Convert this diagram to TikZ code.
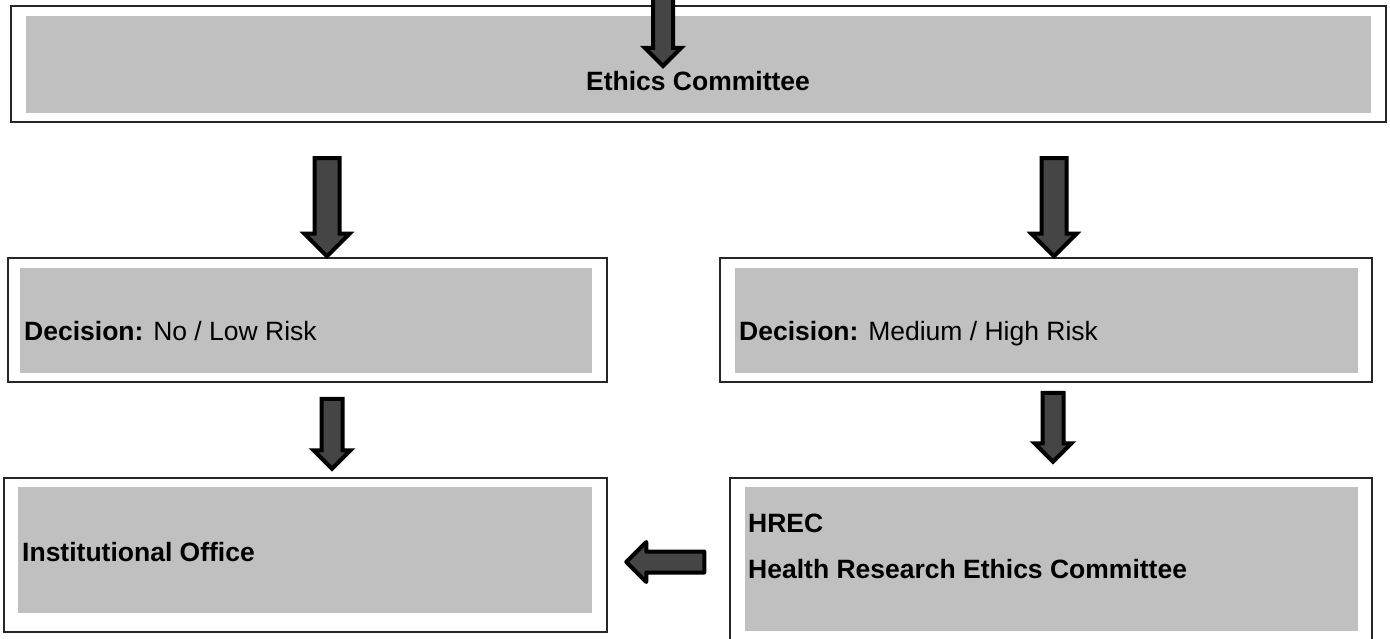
\documentclass[tikz,border=0pt]{standalone}
\usepackage{fontspec}
\setmainfont{Liberation Sans}
\usetikzlibrary{shapes.arrows,positioning}

\definecolor{panelgray}{HTML}{C0C0C0}
\definecolor{arrowgray}{HTML}{454545}
\definecolor{framegray}{HTML}{262626}

\begin{document}
\begin{tikzpicture}[
    x=1pt, y=-1pt,
    outerbox/.style={draw=framegray, line width=2pt, fill=white, inner sep=0pt},
    innerbox/.style={fill=panelgray, inner sep=0pt},
    txt/.style={inner sep=0pt, anchor=base west, font=\fontsize{26.5}{32}\selectfont},
    fatarrow/.style={single arrow, draw=black, fill=arrowgray, line width=4pt,
        inner xsep=0pt, single arrow head indent=0pt, single arrow tip angle=90}
]
    \useasboundingbox (0,0) rectangle (1390,639);

    % frames and grey panels
    \node[outerbox, minimum width=1375pt, minimum height=116pt] (ethicsFrame) at (698.5,64) {};
    \node[innerbox, minimum width=1345pt, minimum height=97pt] (ethics) at (698.5,64.5) {};

    \node[outerbox, minimum width=599pt, minimum height=124pt] (lowFrame) at (307.5,320) {};
    \node[innerbox, minimum width=572pt, minimum height=105pt] (low) at (306,320.5) {};

    \node[outerbox, minimum width=652pt, minimum height=124pt] (highFrame) at (1046,320) {};
    \node[innerbox, minimum width=623pt, minimum height=105pt] (high) at (1046.5,320.5) {};

    \node[outerbox, minimum width=603pt, minimum height=154pt] (officeFrame) at (305.5,555) {};
    \node[innerbox, minimum width=574pt, minimum height=126pt] (office) at (305,550) {};

    \node[outerbox, minimum width=642pt, minimum height=182pt] (hrecFrame) at (1051,569) {};
    \node[innerbox, minimum width=613pt, minimum height=144pt] (hrec) at (1051.5,559) {};

    % texts
    \node[txt, anchor=base] (ethicsText) at (698,90.5) {\textbf{Ethics Committee}};
    \node[txt] (lowText) at (24,340) {\textbf{Decision:} No / Low Risk};
    \node[txt] (highText) at (739,340) {\textbf{Decision:} Medium / High Risk};
    \node[txt] (officeText) at (22,561) {\textbf{Institutional Office}};
    \node[txt] (hrecText) at (748,532) {\textbf{HREC}};
    \node[txt] (hrecName) at (748,578) {\textbf{Health Research Ethics Committee}};

    % block arrows (inner ysep = half the shaft)
    \node[fatarrow, rotate=-90, minimum height=83pt, inner ysep=8pt,
        single arrow head extend=8pt] (toEthics) at (663,19.5) {};
    \node[fatarrow, rotate=-90, minimum height=98pt, inner ysep=10.5pt,
        single arrow head extend=10pt] (toLow) at (327,201) {};
    \node[fatarrow, rotate=-90, minimum height=98pt, inner ysep=10.5pt,
        single arrow head extend=10pt] (toHigh) at (1054,201) {};
    \node[fatarrow, rotate=-90, minimum height=70pt, inner ysep=8.5pt,
        single arrow head extend=8pt] (lowToOffice) at (332,428.5) {};
    \node[fatarrow, rotate=-90, minimum height=69pt, inner ysep=8.5pt,
        single arrow head extend=8pt] (highToHrec) at (1053,422) {};
    \node[fatarrow, rotate=180, line join=round, minimum height=78pt, inner ysep=8.5pt,
        single arrow head extend=9.5pt] (hrecToOffice) at (670.5,562) {};
\end{tikzpicture}
\end{document}
